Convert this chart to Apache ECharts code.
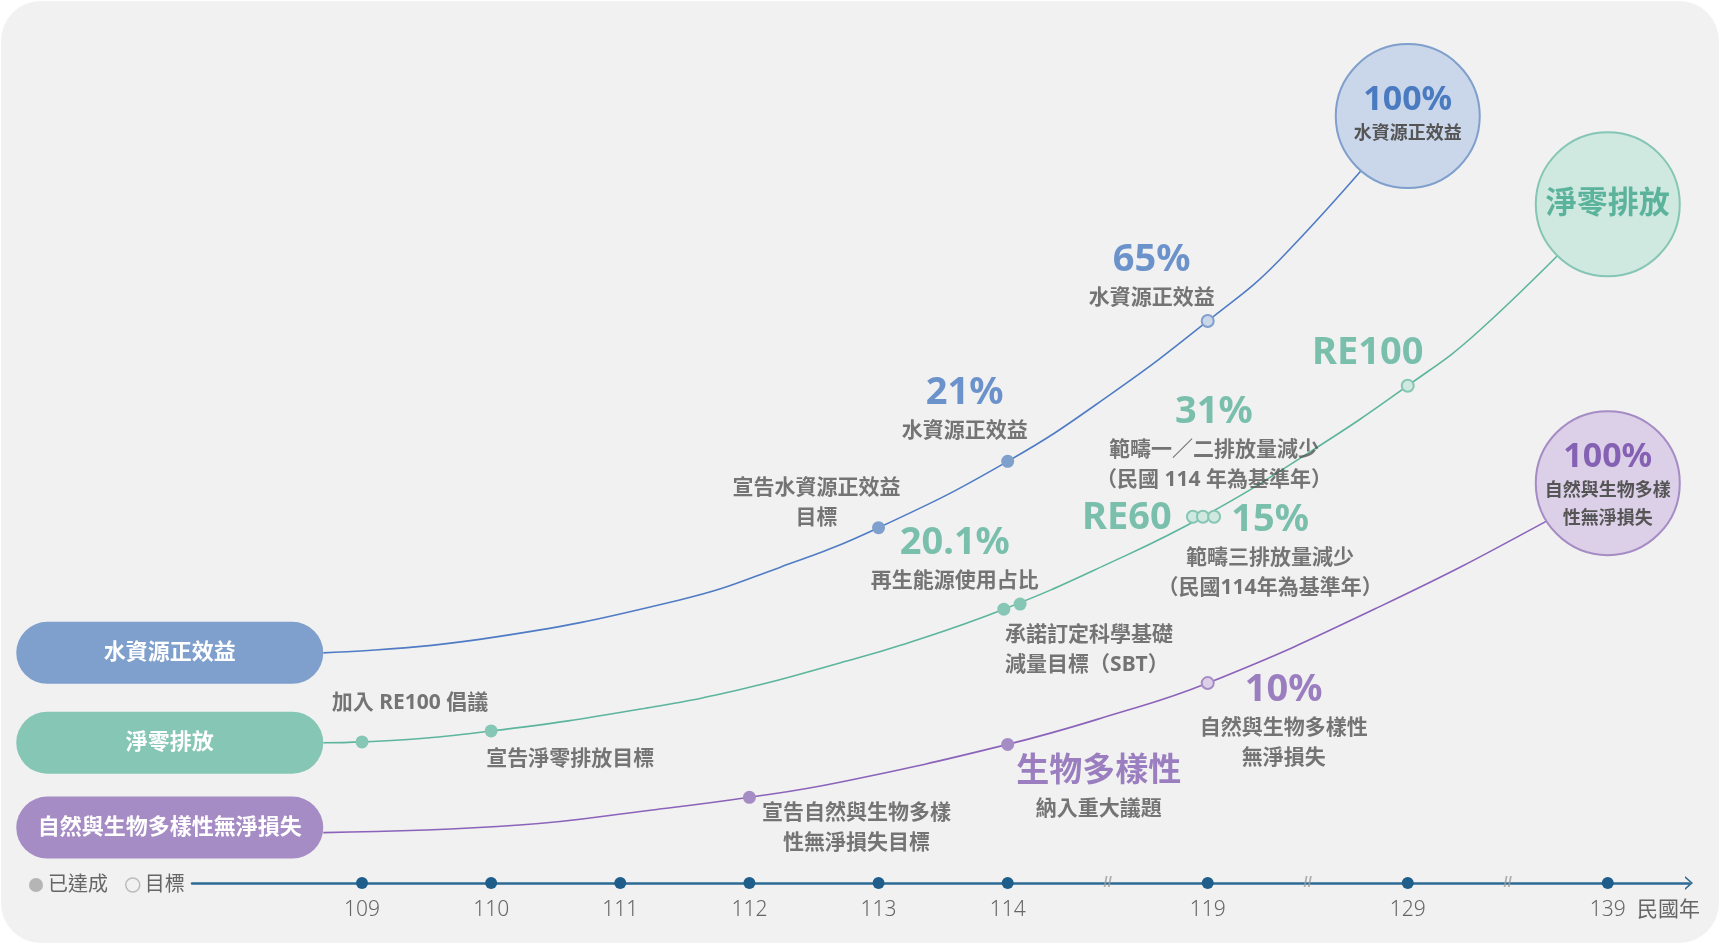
<!DOCTYPE html>
<html>
<head>
<meta charset="utf-8">
<script src="https://cdn.jsdelivr.net/npm/echarts@6/dist/echarts.min.js"></script>
<style>html,body{margin:0;padding:0;background:#fff}#c{width:1720px;height:945px}</style>
</head>
<body>
<div id="c"></div>
<script>
// ---------- data ----------
const axisYears = [109, 110, 111, 112, 113, 114, 119, 129, 139];
const axisBreaks = [116.5, 124, 134];
const pillNames = ['水資源正效益', '淨零排放', '自然與生物多樣性無淨損失'];
const legendNames = ['已達成', '目標'];

const waterCurve = [[108.7,27.4],[109.91,29.0],[111.46,33.7],[112.24,37.6],[113,42.3],[114,50.2],[116.58,58.2],[119,66.9],[122.6,74.2],[129,91.3]];
const netZeroCurve = [[108.7,16.7],[109,16.8],[110,18.1],[111.25,20.95],[112,23.3],[112.7,26.2],[113.17,28.3],[113.97,32.6],[116.46,37.9],[118.88,43.6],[124.1,51.3],[129,59.2],[132.6,65.8],[139,80.8]];
const natureCurve = [[108.7,6.0],[110.22,6.9],[111.25,8.7],[112,10.2],[112.7,12.0],[114,16.5],[116.53,19.9],[119,23.8],[127.6,32.9],[135.8,42.9],[139,47.6]];

const waterMilestones = [[113,42.3],[114,50.2],[119,66.9]];
const waterStatus = ['done','done','goal'];
const waterNotes = [['', '宣告水資源正效益', '目標'], ['21%', '水資源正效益'], ['65%', '水資源正效益']];
const waterGoal = [129, 91.3];
const waterGoalText = ['100%', '水資源正效益'];

const netZeroMilestones = [[109,16.8],[110,18.1],[113.97,32.6],[114.31,33.2],[118.63,43.6],[118.88,43.6],[119.32,43.6],[129,59.2]];
const netZeroStatus = ['done','done','done','done','goal','goal','goal','goal'];
const netZeroNotes = [
  ['', '加入 RE100 倡議'],
  ['', '宣告淨零排放目標'],
  ['20.1%', '再生能源使用占比'],
  ['', '承諾訂定科學基礎', '減量目標（SBT）'],
  ['RE60'],
  ['31%', '範疇一／二排放量減少', '（民國 114 年為基準年）'],
  ['15%', '範疇三排放量減少', '（民國114年為基準年）'],
  ['RE100']
];
const netZeroGoal = [139, 80.8];
const netZeroGoalText = ['淨零排放'];

const natureMilestones = [[112,10.2],[114,16.5],[119,23.8]];
const natureStatus = ['done','done','goal'];
const natureNotes = [['', '宣告自然與生物多樣', '性無淨損失目標'], ['生物多樣性', '納入重大議題'], ['10%', '自然與生物多樣性', '無淨損失']];
const natureGoal = [139, 47.6];
const natureGoalText = ['100%', '自然與生物多樣', '性無淨損失'];

// ---------- scale with axis breaks ----------
const BREAK = 1.549;
function pos(year) {
  if (year <= 114) return year - 109;
  if (year <= 119) return 5 + (year - 114) / 5 * BREAK;
  return 5 + BREAK + (year - 119) / 10 * BREAK;
}

// ---------- styles / layout ----------
const FONT = "'Noto Sans', 'Noto Sans CJK TC', sans-serif";
const GRAY = '#555';
const themes = [
  { line: '#4f7cc4', dot: '#7f9fcc', light: '#cad6ea', num: '#4a7bc0' },
  { line: '#5cb59c', dot: '#86c6b4', light: '#cfe8e0', num: '#5bb39b' },
  { line: '#8b63ba', dot: '#a68cc4', light: '#dcd0e8', num: '#8561b3' }
];
const waterLayout = [{dx:-62,dy:-40},{dx:-43,dy:-68},{dx:-56,dy:-61}];
const netZeroLayout = [{dx:48,dy:-39},{dx:79,dy:28},{dx:-49,dy:-66},{dx:-15,dy:31,align:'left'},{dx:-66,dy:1},{dx:11,dy:-105},{dx:56,dy:3},{dx:-40,dy:-33}];
const natureLayout = [{dx:107,dy:16},{dx:91,dy:27,big:'k'},{dx:76,dy:7}];

const groups = [
  { curve: waterCurve, ms: waterMilestones, st: waterStatus, notes: waterNotes, layout: waterLayout, goal: waterGoal, goalText: waterGoalText, goalLayout: {dy:-16, big:'cn'}, pillOffset: [-153.5, 0] },
  { curve: netZeroCurve, ms: netZeroMilestones, st: netZeroStatus, notes: netZeroNotes, layout: netZeroLayout, goal: netZeroGoal, goalText: netZeroGoalText, goalLayout: {dy:0, big:'cz'}, pillOffset: [-153.5, 0] },
  { curve: natureCurve, ms: natureMilestones, st: natureStatus, notes: natureNotes, layout: natureLayout, goal: natureGoal, goalText: natureGoalText, goalLayout: {dy:-26, big:'cn'}, pillOffset: [-153.5, -5] }
];

function richFor(color) {
  return {
    n: { fontSize: 38, fontWeight: 'bold', color: color, lineHeight: 46, fontFamily: FONT },
    k: { fontSize: 33, fontWeight: 'bold', color: color, lineHeight: 46, fontFamily: FONT },
    t: { fontSize: 21, fontWeight: 'bold', color: GRAY, lineHeight: 30, fontFamily: FONT },
    cn: { fontSize: 34, fontWeight: 'bold', color: color, lineHeight: 40, fontFamily: FONT },
    ct: { fontSize: 18, fontWeight: 'bold', color: GRAY, lineHeight: 28, fontFamily: FONT },
    cz: { fontSize: 31, fontWeight: 'bold', color: color, lineHeight: 40, fontFamily: FONT }
  };
}
const LH = { n: 46, k: 46, t: 30, cn: 40, cz: 40, ct: 28 };

function buildLabel(lines, lay, color, bigDefault, small) {
  const big = lay.big || bigDefault;
  const parts = [];
  let first = null;
  lines.forEach((l, i) => {
    if (i === 0) {
      if (l === '') return;
      parts.push('{' + big + '|' + l + '}');
      first = big;
    } else {
      parts.push('{' + small + '|' + l + '}');
      if (first === null) first = small;
    }
  });
  return {
    show: true,
    position: 'inside',
    align: lay.align || 'center',
    verticalAlign: 'top',
    offset: [lay.dx || 0, (lay.dy || 0) - LH[first] / 2],
    formatter: parts.join('\n'),
    rich: richFor(color)
  };
}

const series = [];
const doneData = [], goalData = [], labelData = [], circleData = [], pillData = [];

groups.forEach((g, gi) => {
  const th = themes[gi];
  series.push({
    type: 'line', data: g.curve.map(([y, v]) => [pos(y), v]),
    smooth: 0.45, symbol: 'none', silent: true, z: 2,
    lineStyle: { color: th.line, width: 1.6 }
  });
  g.ms.forEach(([y, v], i) => {
    const p = [pos(y), v];
    if (g.st[i] === 'done') doneData.push({ value: p, itemStyle: { color: th.dot, opacity: 1 } });
    else goalData.push({ value: p, itemStyle: { color: th.light, borderColor: th.dot, borderWidth: 2, opacity: 1 } });
    labelData.push({ value: p, label: buildLabel(g.notes[i], g.layout[i], th.num, 'n', 't') });
  });
  circleData.push({
    value: [pos(g.goal[0]), g.goal[1]],
    itemStyle: { color: th.light, borderColor: th.dot, borderWidth: 2, opacity: 1 },
    label: buildLabel(g.goalText, g.goalLayout, th.num, 'cn', 'ct')
  });
  const start = g.curve[0];
  pillData.push({
    value: [pos(start[0]), start[1]], name: pillNames[gi],
    symbolOffset: g.pillOffset,
    itemStyle: { color: th.dot, opacity: 1 }
  });
});

series.push({
  type: 'scatter', name: 'pill', data: pillData, z: 3, silent: true, clip: false,
  symbol: 'path://M31,0 L276,0 A31,31 0 0 1 276,62 L31,62 A31,31 0 0 1 31,0 Z',
  symbolSize: [307, 62], itemStyle: { opacity: 1 },
  label: { show: true, position: 'inside', formatter: '{b}', color: '#fff', fontSize: 22, fontWeight: 'bold', fontFamily: FONT }
});
series.push({
  type: 'scatter', name: 'goalCircle', data: circleData, z: 5, silent: true, clip: false,
  symbol: 'circle', symbolSize: 144, itemStyle: { opacity: 1 }
});
series.push({
  type: 'scatter', name: legendNames[0], data: doneData, z: 6, silent: true, clip: false,
  symbol: 'circle', symbolSize: 13, itemStyle: { color: '#b5b5b5', opacity: 1 }
});
series.push({
  type: 'scatter', name: legendNames[1], data: goalData, z: 6, silent: true, clip: false,
  symbol: 'circle', symbolSize: 12, itemStyle: { color: '#f1f1f1', borderColor: '#bcbcbc', borderWidth: 1.5, opacity: 1 }
});
series.push({
  type: 'scatter', name: 'notes', data: labelData, z: 7, silent: true, clip: false,
  symbol: 'circle', symbolSize: 1, itemStyle: { color: 'rgba(0,0,0,0)' }
});
series.push({
  type: 'scatter', name: 'ticks', z: 4, silent: true, clip: false,
  data: axisYears.map(y => ({ value: [pos(y), 0], name: String(y) })),
  symbol: 'circle', symbolSize: 12, itemStyle: { color: '#1f5e8a', opacity: 1 },
  label: { show: true, position: 'inside', offset: [0, 27], formatter: '{b}', fontSize: 21, color: '#666', fontFamily: "'Noto Sans', sans-serif", fontWeight: 300 }
});
series.push({
  type: 'scatter', name: 'breaks', z: 4, silent: true, clip: false,
  data: axisBreaks.map(b => [pos(b), 0]),
  symbol: 'circle', symbolSize: 1, itemStyle: { color: 'rgba(0,0,0,0)' },
  label: { show: true, position: 'inside', formatter: '//', fontSize: 15, fontWeight: 'bold', color: '#9d9d9d', fontFamily: "'Liberation Sans', sans-serif" }
});

const chart = echarts.init(document.getElementById('c'));
chart.setOption({
  animation: false,
  backgroundColor: '#ffffff',
  textStyle: { fontFamily: FONT },
  graphic: [{
    type: 'rect', z: -10, silent: true,
    shape: { x: 1, y: 1, width: 1718, height: 942, r: 40 },
    style: { fill: '#f1f1f1' }
  }],
  legend: {
    left: 24, top: 870, itemWidth: 14, itemHeight: 14, itemGap: 17, selectedMode: false,
    textStyle: { fontSize: 20, color: '#666', fontFamily: FONT },
    data: [
      { name: legendNames[0], icon: 'circle', itemStyle: { color: '#b5b5b5' } },
      { name: legendNames[1], icon: 'circle', itemStyle: { color: '#f1f1f1', borderColor: '#bcbcbc', borderWidth: 1.5 } }
    ]
  },
  grid: { left: 192, right: 31, top: 43, bottom: 62 },
  xAxis: {
    type: 'value', min: -1.3165, max: 10.276,
    axisLine: { show: true, onZero: false, lineStyle: { color: '#2d6a94', width: 2.5 },
      symbol: ['none', 'path://M0,8 L7,0 L14,8 L12,8 L7,2.3 L2,8 Z'], symbolSize: [14, 8] },
    axisTick: { show: false }, axisLabel: { show: false }, splitLine: { show: false },
    name: '民國年', nameLocation: 'end', nameGap: -52,
    nameTextStyle: { fontSize: 21, color: '#666', fontFamily: FONT, align: 'left', verticalAlign: 'top', padding: [15, 0, 0, 0], lineHeight: 24 }
  },
  yAxis: { type: 'value', min: 0, max: 100, show: false },
  series: series
});
</script>
</body>
</html>
